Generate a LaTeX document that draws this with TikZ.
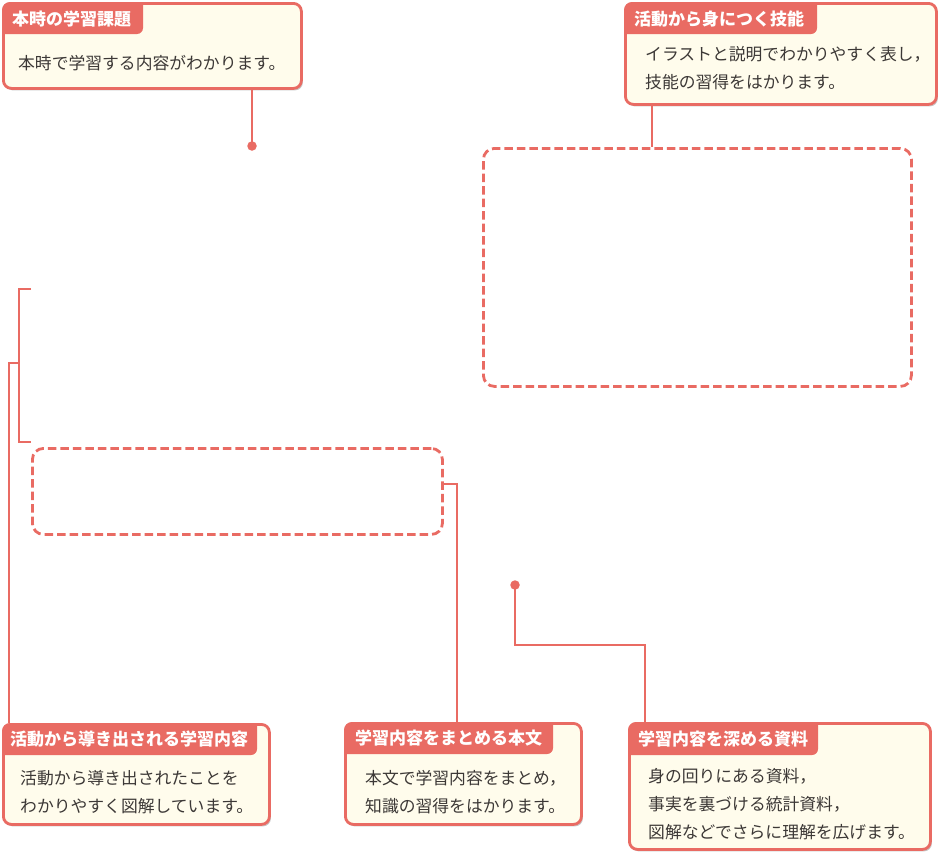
\documentclass[tikz,border=0pt]{standalone}
\usepackage{fontspec}
\setmainfont{Noto Sans CJK JP}
\usetikzlibrary{shadows}
\definecolor{salmon}{RGB}{233,107,99}
\definecolor{cream}{RGB}{255,252,236}
\definecolor{ink}{RGB}{60,56,54}

\begin{document}
\begin{tikzpicture}[x=1pt, y=-1pt,
    box/.style={draw=salmon, line width=2.8pt, fill=cream, rounded corners=8pt,
      anchor=north west, inner sep=0pt,
      drop shadow={shadow xshift=1.5pt, shadow yshift=-2pt, fill=black!22, opacity=1}},
    tablabel/.style={anchor=west, inner sep=0pt, text=white,
      font=\fontsize{17}{20}\selectfont\bfseries},
    body/.style={anchor=north west, inner sep=0pt, align=left, text=ink,
      font=\fontsize{16.8}{28}\selectfont},
    link/.style={draw=salmon, line width=2.8pt},
    frame/.style={draw=salmon, line width=2.8pt, dash pattern=on 8.5pt off 4pt,
      rounded corners=11pt, inner sep=0pt, anchor=north west},
    dot/.style={circle, fill=salmon, inner sep=0pt, minimum size=9.5pt},
  ]
  \useasboundingbox (0,0) rectangle (940,854);

  % top left: lesson topic
  \node[box, minimum width=298pt, minimum height=85pt] (b1) at (2,2) {};
  \begin{scope}
    \clip[rounded corners=8pt] (b1.north west) rectangle (b1.south east);
    \fill[salmon, rounded corners=6pt] (-10,-10) rectangle (143,34);
  \end{scope}
  \node[tablabel] (t1) at ([xshift=10pt, yshift=-17pt]b1.north west) {本時の学習課題};
  \node[body] (x1) at ([xshift=16pt, yshift=-53pt]b1.north west) {本時で学習する内容がわかります。};

  % top right: skills
  \node[box, minimum width=311pt, minimum height=101pt] (b2) at (624,2) {};
  \begin{scope}
    \clip[rounded corners=8pt] (b2.north west) rectangle (b2.south east);
    \fill[salmon, rounded corners=6pt] (614,-10) rectangle (817,34);
  \end{scope}
  \node[tablabel] (t2) at ([xshift=10pt, yshift=-17pt]b2.north west) {活動から身につく技能};
  \node[body] (x2) at ([xshift=21pt, yshift=-44pt]b2.north west)
    {イラストと説明でわかりやすく表し，\\技能の習得をはかります。};

  % bottom left: what the activity leads to
  \node[box, minimum width=266pt, minimum height=100pt] (b4) at (2,723) {};
  \begin{scope}
    \clip[rounded corners=8pt] (b4.north west) rectangle (b4.south east);
    \fill[salmon, rounded corners=6pt] (-10,713) rectangle (257,755);
  \end{scope}
  \node[tablabel] (t4) at ([xshift=8pt, yshift=-16pt]b4.north west) {活動から導き出される学習内容};
  \node[body] (x4) at ([xshift=18pt, yshift=-47pt]b4.north west)
    {活動から導き出されたことを\\わかりやすく図解しています。};

  % bottom middle: main text
  \node[box, minimum width=236pt, minimum height=101pt] (b5) at (344,722) {};
  \begin{scope}
    \clip[rounded corners=8pt] (b5.north west) rectangle (b5.south east);
    \fill[salmon, rounded corners=6pt] (334,712) rectangle (553,754);
  \end{scope}
  \node[tablabel] (t5) at ([xshift=11pt, yshift=-16pt]b5.north west) {学習内容をまとめる本文};
  \node[body] (x5) at ([xshift=21pt, yshift=-48pt]b5.north west)
    {本文で学習内容をまとめ，\\知識の習得をはかります。};

  % bottom right: materials
  \node[box, minimum width=301pt, minimum height=126pt] (b6) at (628,722) {};
  \begin{scope}
    \clip[rounded corners=8pt] (b6.north west) rectangle (b6.south east);
    \fill[salmon, rounded corners=6pt] (618,712) rectangle (818,755);
  \end{scope}
  \node[tablabel] (t6) at ([xshift=10pt, yshift=-17pt]b6.north west) {学習内容を深める資料};
  \node[body] (x6) at ([xshift=20pt, yshift=-46pt]b6.north west)
    {身の回りにある資料，\\事実を裏づける統計資料，\\図解などでさらに理解を広げます。};

  % dashed frames
  \node[frame, minimum width=428pt, minimum height=238pt] (r1) at (482,147) {};
  \node[frame, minimum width=410pt, minimum height=86pt] (r2) at (31,447) {};

  % connectors
  \node[dot] (d1) at (252,146) {};
  \draw[link] (b1.south -| d1) -- (d1.center);

  \coordinate (k2) at (652,120);
  \draw[link] (b2.south -| k2) -- (r1.north -| k2);

  \coordinate (brtop) at (31,289);
  \coordinate (brbot) at (31,442);
  \coordinate (brmid) at (19,363);
  \draw[link] (brtop) -| (brmid) |- (brbot);
  \coordinate (k4) at (9,363);
  \draw[link] (brmid) -- (k4) -- (k4 |- b4.north);

  \coordinate (k5) at (457,484);
  \draw[link] (r2.east |- k5) -- (k5) -- (k5 |- b5.north);

  \node[dot] (d6) at (515,585) {};
  \coordinate (k6) at (645,645);
  \draw[link] (d6.center) |- (k6) -- (k6 |- b6.north);
\end{tikzpicture}
\end{document}
